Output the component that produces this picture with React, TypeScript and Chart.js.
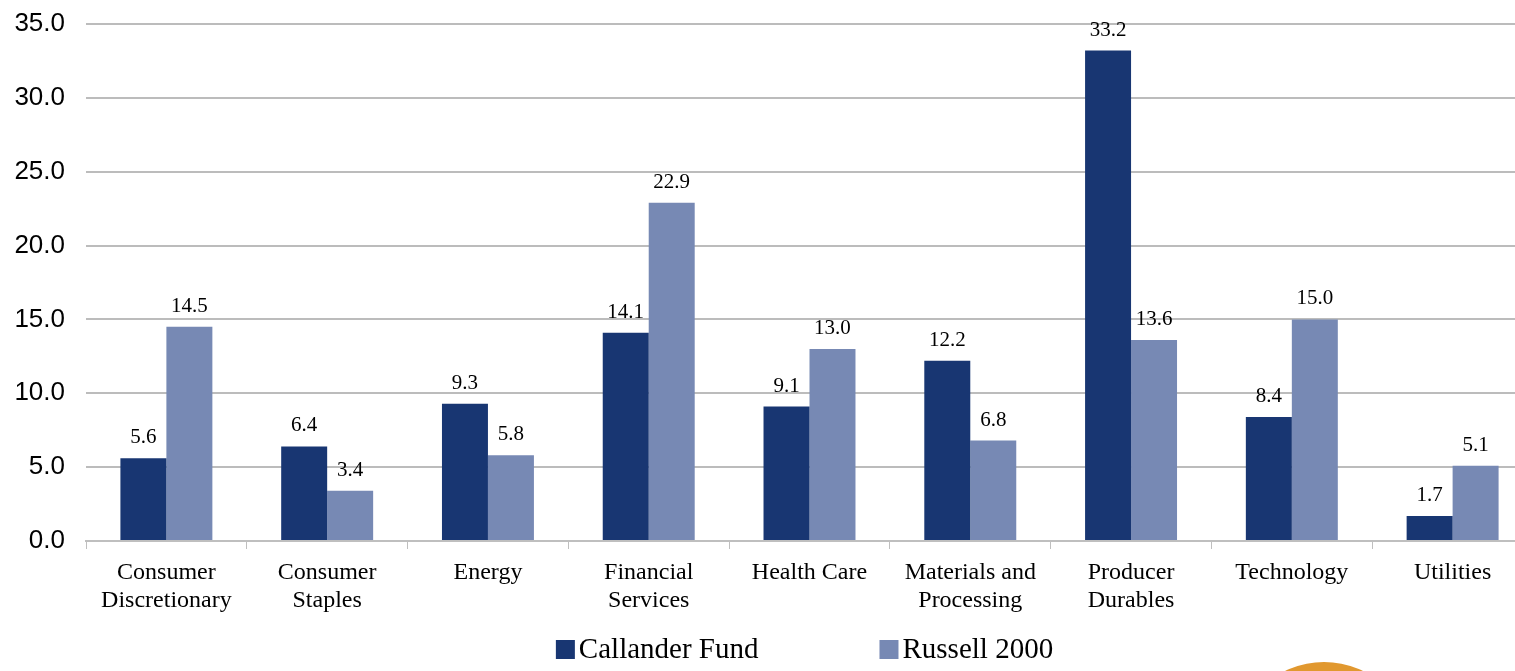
import React, { useEffect, useRef } from "react";
import { Chart, registerables } from "chart.js";

Chart.register(...registerables);

const categories: string[][] = [
  ["Consumer", "Discretionary"],
  ["Consumer", "Staples"],
  ["Energy"],
  ["Financial", "Services"],
  ["Health Care"],
  ["Materials and", "Processing"],
  ["Producer", "Durables"],
  ["Technology"],
  ["Utilities"],
];
const callanderFund = [5.6, 6.4, 9.3, 14.1, 9.1, 12.2, 33.2, 8.4, 1.7];
const russell2000 = [14.5, 3.4, 5.8, 22.9, 13.0, 6.8, 13.6, 15.0, 5.1];
const seriesNames = ["Callander Fund", "Russell 2000"];
const seriesColors = ["#183672", "#7789B4"];
const yTicks = [0, 5, 10, 15, 20, 25, 30, 35];

const SERIF = "'Liberation Serif', 'Times New Roman', serif";
const SANS = "'Liberation Sans', Arial, sans-serif";

const dataLabelPlugin = {
  id: "dataLabels",
  afterDatasetsDraw(chart: any) {
    const ctx = chart.ctx;
    ctx.save();
    ctx.font = `21px ${SERIF}`;
    ctx.fillStyle = "#000";
    ctx.textAlign = "center";
    ctx.textBaseline = "alphabetic";
    chart.data.datasets.forEach((ds: any, i: number) => {
      const meta = chart.getDatasetMeta(i);
      meta.data.forEach((bar: any, j: number) => {
        const v = ds.data[j];
        ctx.fillText(Number(v).toFixed(1), bar.x, bar.y - 15);
      });
    });
    ctx.restore();
  },
};

const legendPlugin = {
  id: "customLegend",
  afterDraw(chart: any) {
    const ctx = chart.ctx;
    const area = chart.chartArea;
    ctx.save();
    ctx.font = `29px ${SERIF}`;
    const box = 19;
    const gap = 4;
    const itemGap = 121;
    const widths = chart.data.datasets.map((ds: any) => box + gap + ctx.measureText(ds.label).width);
    const total = widths.reduce((a: number, b: number) => a + b, 0) + itemGap * (widths.length - 1);
    const cx = (area.left + area.right) / 2 - 5;
    let x = cx - total / 2;
    const baseY = 658;
    chart.data.datasets.forEach((ds: any, i: number) => {
      ctx.fillStyle = ds.backgroundColor;
      ctx.fillRect(x, 640, box, box);
      ctx.fillStyle = "#000";
      ctx.textAlign = "left";
      ctx.textBaseline = "alphabetic";
      ctx.fillText(ds.label, x + box + gap, baseY);
      x += widths[i] + itemGap;
    });
    // partial logo circle at bottom right
    ctx.fillStyle = "#E1982F";
    ctx.beginPath();
    ctx.arc(1324, 751, 89, 0, Math.PI * 2);
    ctx.fill();
    ctx.restore();
  },
};

export default function App() {
  const canvasRef = useRef<HTMLCanvasElement | null>(null);

  useEffect(() => {
    if (!canvasRef.current) return;
    const chart = new Chart(canvasRef.current, {
      type: "bar",
      data: {
        labels: categories,
        datasets: [
          { label: seriesNames[0], data: callanderFund, backgroundColor: seriesColors[0] },
          { label: seriesNames[1], data: russell2000, backgroundColor: seriesColors[1] },
        ],
      },
      options: {
        responsive: false,
        animation: false,
        devicePixelRatio: 1,
        layout: { padding: { top: 24, right: 7, left: 0, bottom: 0 } },
        datasets: {
          bar: { categoryPercentage: 0.572, barPercentage: 1 },
        },
        plugins: {
          legend: { display: false },
          tooltip: { enabled: false },
        },
        scales: {
          x: {
            grid: {
              offset: true,
              drawOnChartArea: false,
              drawTicks: true,
              tickLength: 8,
              color: "#BFBFBF",
              lineWidth: 1,
            },
            border: { display: true, color: "#BFBFBF", width: 2 },
            ticks: {
              color: "#000",
              font: { family: SERIF, size: 24, lineHeight: 1.167 },
              padding: 10,
              maxRotation: 0,
              autoSkip: false,
            },
            afterFit(scale: any) {
              scale.height = 130;
              scale.paddingLeft = 0;
              scale.paddingRight = 0;
              scale.paddingTop = 0;
              scale.paddingBottom = 0;
            },
          },
          y: {
            min: 0,
            max: 35,
            afterBuildTicks(scale: any) {
              scale.ticks = yTicks.map((v) => ({ value: v }));
            },
            grid: { color: "#BCBCBC", lineWidth: 2, drawTicks: false },
            border: { display: false },
            ticks: {
              color: "#000",
              font: { family: SANS, size: 26 },
              padding: 21,
              callback: (v: any) => Number(v).toFixed(1),
            },
            afterFit(scale: any) {
              scale.width = 86;
              scale.paddingLeft = 0;
              scale.paddingRight = 0;
              scale.paddingTop = 0;
              scale.paddingBottom = 0;
            },
          },
        },
      },
      plugins: [dataLabelPlugin, legendPlugin],
    } as any);
    return () => chart.destroy();
  }, []);

  return (
    <div
      style={{
        position: "fixed",
        left: 0,
        top: 0,
        width: 1515,
        height: 671,
        overflow: "hidden",
        background: "#fff",
      }}
    >
      <canvas ref={canvasRef} width={1540} height={671} style={{ display: "block" }} />
    </div>
  );
}
